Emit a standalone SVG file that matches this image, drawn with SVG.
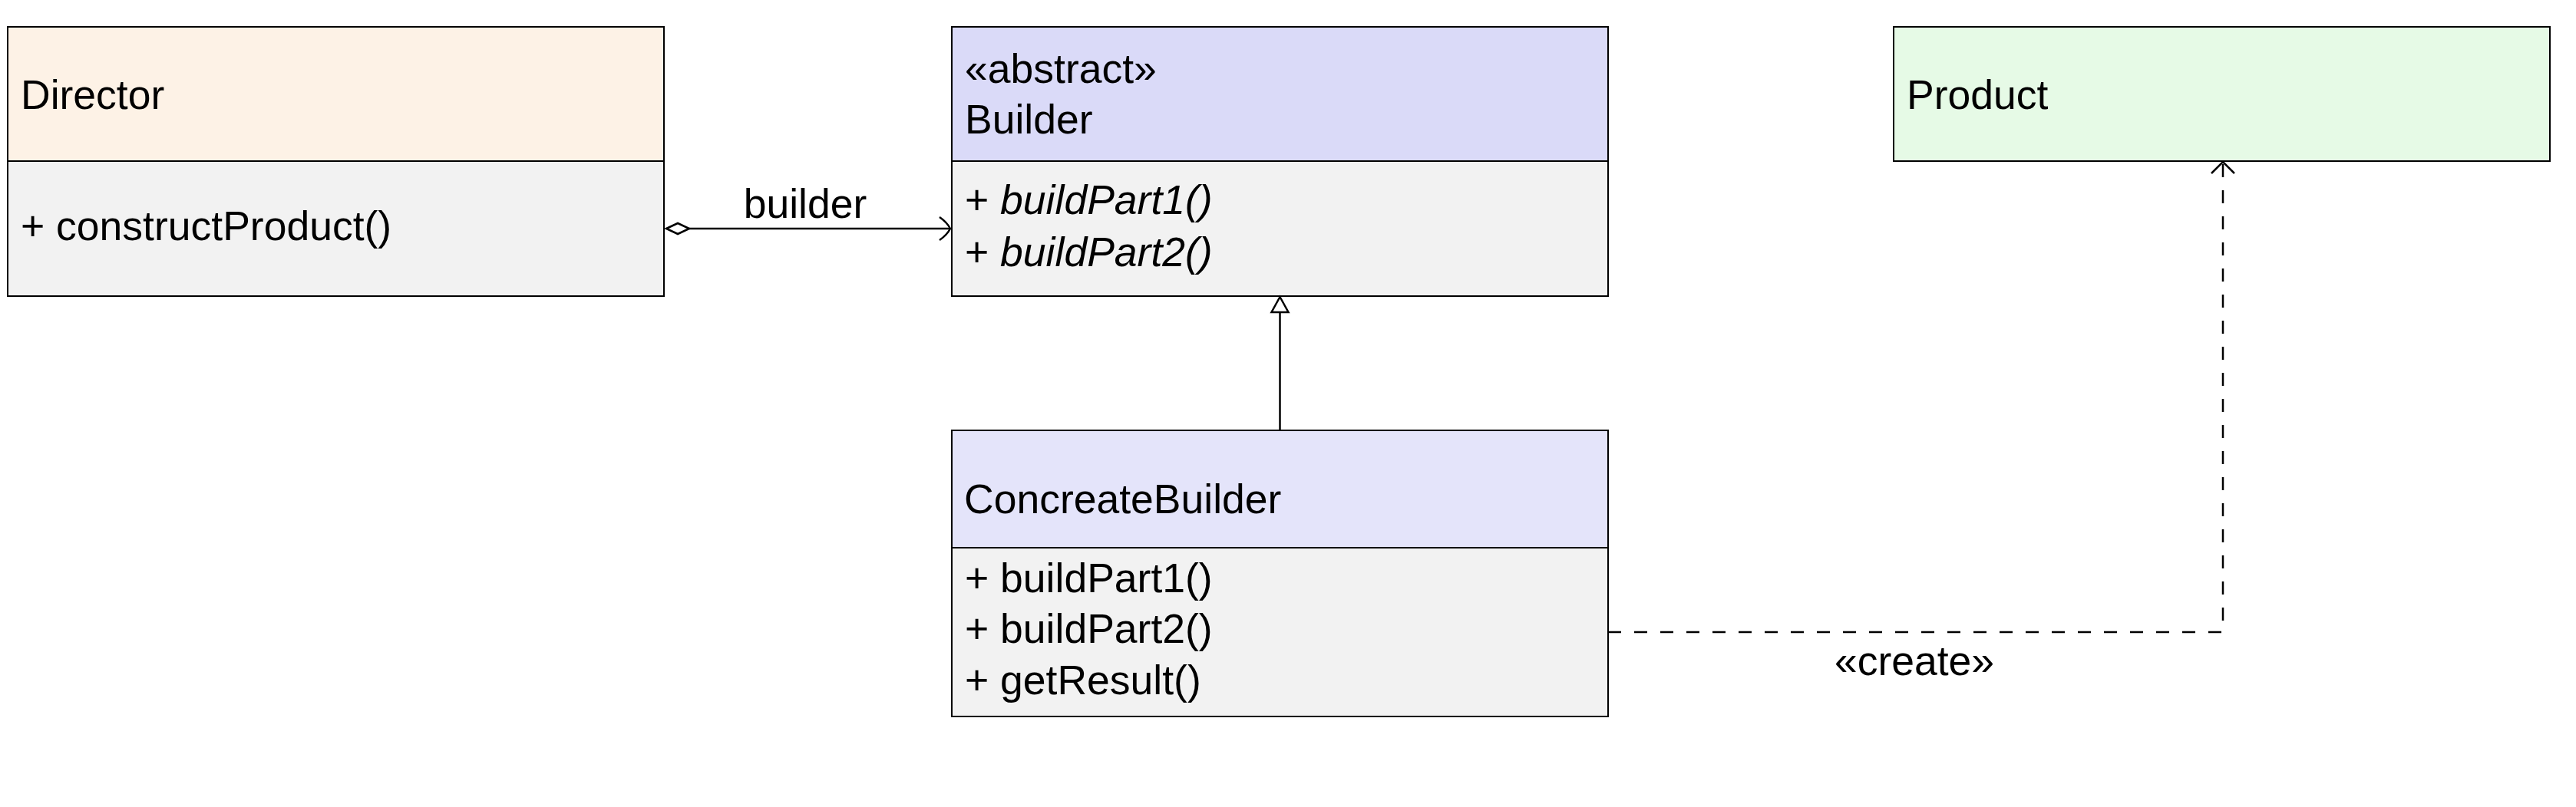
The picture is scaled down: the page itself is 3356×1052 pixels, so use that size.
<svg xmlns="http://www.w3.org/2000/svg" width="3356" height="1052" viewBox="0 0 3356 1052">
  <style>
    .box { stroke: #000; stroke-width: 2; }
    .methods { fill: #f2f2f2; }
    .t { font-family: "Liberation Sans", Arial, Helvetica, sans-serif; font-size: 53.5px; fill: #000; }
    .it { font-style: italic; }
    .conn { fill: none; stroke: #000; stroke-width: 2.5; }
    .dash { stroke-dasharray: 17 17; }
  </style>
  <rect width="3356" height="1052" fill="#ffffff"/>

  <g id="director">
    <rect class="box" x="10" y="35" width="855" height="175" fill="#fdf2e6"/>
    <rect class="box methods" x="10" y="210" width="855" height="176"/>
    <text class="t" x="27" y="142">Director</text>
    <text class="t" x="27" y="313">+ constructProduct()</text>
  </g>

  <g id="builder">
    <rect class="box" x="1240" y="35" width="855" height="175" fill="#dadaf8"/>
    <rect class="box methods" x="1240" y="210" width="855" height="176"/>
    <text class="t" x="1257" y="108">«abstract»</text>
    <text class="t" x="1257" y="174">Builder</text>
    <text class="t" x="1257" y="279">+ <tspan class="it">buildPart1()</tspan></text>
    <text class="t" x="1257" y="347">+ <tspan class="it">buildPart2()</tspan></text>
  </g>

  <g id="product">
    <rect class="box" x="2467" y="35" width="855" height="175" fill="#e6fae6"/>
    <text class="t" x="2484" y="142">Product</text>
  </g>

  <g id="concrete-builder">
    <rect class="box" x="1240" y="561" width="855" height="153" fill="#e4e4fa"/>
    <rect class="box methods" x="1240" y="714" width="855" height="220"/>
    <text class="t" x="1256" y="669">ConcreateBuilder</text>
    <text class="t" x="1257" y="772">+ buildPart1()</text>
    <text class="t" x="1257" y="838">+ buildPart2()</text>
    <text class="t" x="1257" y="905">+ getResult()</text>
  </g>

  <g id="connectors">
    <!-- aggregation Director -> Builder -->
    <line class="conn" x1="898" y1="298" x2="1238" y2="298"/>
    <path class="conn" d="M868,298 L883,291 L898,298 L883,305 Z" style="fill:#fff"/>
    <path class="conn" d="M1224,283 Q1234,290 1238,298 Q1234,306 1224,313"/>
    <text class="t" x="1049" y="284" text-anchor="middle">builder</text>

    <!-- generalization ConcreteBuilder -> Builder -->
    <line class="conn" x1="1667.5" y1="561" x2="1667.5" y2="407"/>
    <path class="conn" d="M1667.5,387 L1678.5,407 L1656.5,407 Z" style="fill:#fff"/>

    <!-- dependency ConcreteBuilder -> Product -->
    <path class="conn dash" d="M2095,824 L2896,824 L2896,213"/>
    <path class="conn" d="M2881,226 Q2891,216 2896,211 Q2901,216 2911,226"/>
    <text class="t" x="2494" y="880" text-anchor="middle">«create»</text>
  </g>
</svg>
